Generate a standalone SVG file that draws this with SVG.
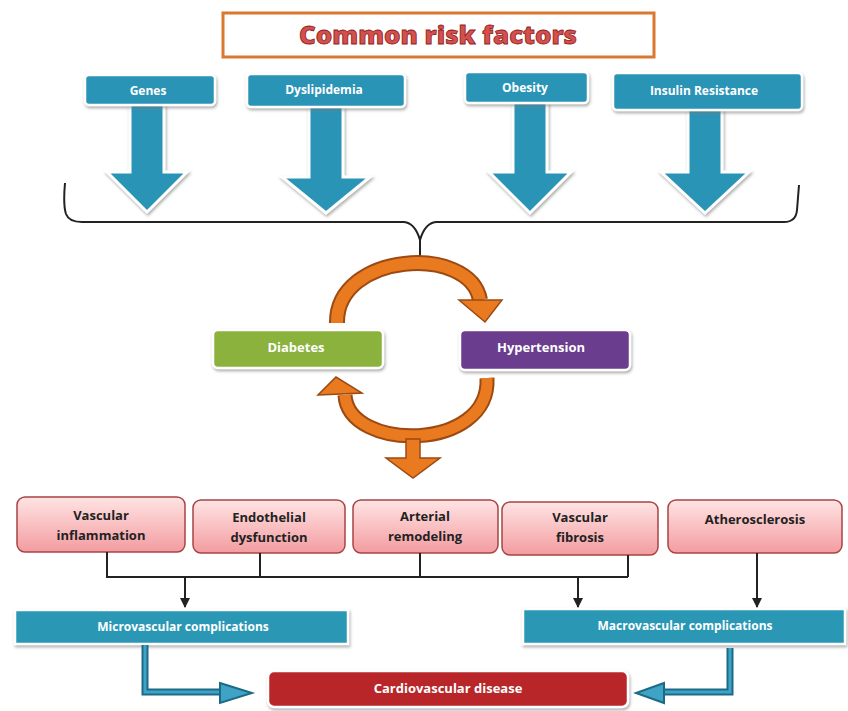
<svg xmlns="http://www.w3.org/2000/svg" width="848" height="711" viewBox="0 0 848 711">
<defs>
  <filter id="sh" x="-10%" y="-20%" width="130%" height="160%">
    <feDropShadow dx="1" dy="2" stdDeviation="1.5" flood-color="#777" flood-opacity="0.6"/>
  </filter>
  <linearGradient id="pink" x1="0" y1="0" x2="0" y2="1">
    <stop offset="0" stop-color="#FFE4E4"/>
    <stop offset="1" stop-color="#F39CA0"/>
  </linearGradient>
  <marker id="ah" viewBox="0 0 10 10" refX="9" refY="5" markerWidth="5" markerHeight="5" orient="auto">
    <path d="M0,0 L10,5 L0,10 z" fill="#222"/>
  </marker>
</defs>
<style>
  .lbl{font-family:"Open Sans","Liberation Sans",sans-serif;font-weight:bold;fill:#fff;text-anchor:middle}
  .blue{fill:#2A94B6;stroke:#fff;stroke-width:2.5;filter:url(#sh)}
  .barrow{fill:#2A94B6;stroke:#fff;stroke-width:3;filter:url(#sh)}
  .pk{fill:url(#pink);stroke:#A84444;stroke-width:1.5}
  .pkt{font-family:"Open Sans","Liberation Sans",sans-serif;font-weight:bold;font-size:13px;fill:#222;text-anchor:middle}
  .ln{stroke:#222;stroke-width:2;fill:none}
  .orO{stroke:#9C4A12;fill:none}
  .orI{stroke:#EA7A20;fill:none}
  .orH{fill:#EA7A20;stroke:#9C4A12;stroke-width:1.5}
  .tO{stroke:#1D6A88;stroke-width:7;fill:none}
  .tI{stroke:#3FA3C6;stroke-width:3;fill:none}
</style>

<g id="title">
  <rect x="223" y="13" width="431" height="44" fill="#fff" stroke="#D9782E" stroke-width="3"/>
  <text x="438" y="44" font-family="'Open Sans','Liberation Sans',sans-serif" font-weight="800" font-size="24" fill="#D4504C" stroke="#8E1E1E" stroke-width="0.8" text-anchor="middle" textLength="278" lengthAdjust="spacingAndGlyphs">Common risk factors</text>
</g>

<g id="genes">
  <polygon class="barrow" points="130,104 164,104 164,172 187,172 147,212 107,172 130,172"/>
  <rect class="blue" x="85" y="75" width="130" height="30" rx="4"/>
  <text class="lbl" x="148" y="95" font-size="12">Genes</text>
</g>
<g id="dyslipidemia">
  <polygon class="barrow" points="309,106 343,106 343,177 370,177 326,213 282,177 309,177"/>
  <rect class="blue" x="247" y="74" width="158" height="33" rx="4"/>
  <text class="lbl" x="324" y="94" font-size="12">Dyslipidemia</text>
</g>
<g id="obesity">
  <polygon class="barrow" points="513,102 547,102 547,172 571,172 530,213 489,172 513,172"/>
  <rect class="blue" x="465" y="72" width="123" height="31" rx="4"/>
  <text class="lbl" x="525" y="92" font-size="12">Obesity</text>
</g>
<g id="insulin">
  <polygon class="barrow" points="688,108 722,108 722,172 749,172 705,213 661,172 688,172"/>
  <rect class="blue" x="613" y="73" width="189" height="37" rx="4"/>
  <text class="lbl" x="704" y="95" font-size="12">Insulin  Resistance</text>
</g>

<g id="diabetes">
  <rect x="213" y="330" width="170" height="38" rx="5" fill="#8AB23C" stroke="#fff" stroke-width="2.5" filter="url(#sh)"/>
  <text class="lbl" x="296" y="352" font-size="13" fill="#F2F7E6">Diabetes</text>
</g>
<g id="hypertension">
  <rect x="460" y="330" width="170" height="40" rx="5" fill="#6B3D8E" stroke="#fff" stroke-width="2.5" filter="url(#sh)"/>
  <text class="lbl" x="541" y="352" font-size="13">Hypertension</text>
</g>

<g id="vascular-inflammation">
  <rect class="pk" x="17" y="497" width="168" height="55" rx="8"/>
  <text class="pkt" x="101" y="520">Vascular</text>
  <text class="pkt" x="101" y="540">inflammation</text>
</g>
<g id="endothelial">
  <rect class="pk" x="193" y="500" width="152" height="53" rx="8"/>
  <text class="pkt" x="269" y="522">Endothelial</text>
  <text class="pkt" x="269" y="542">dysfunction</text>
</g>
<g id="arterial">
  <rect class="pk" x="353" y="500" width="145" height="53" rx="8"/>
  <text class="pkt" x="425" y="521">Arterial</text>
  <text class="pkt" x="425" y="541">remodeling</text>
</g>
<g id="vascular-fibrosis">
  <rect class="pk" x="502" y="502" width="156" height="53" rx="8"/>
  <text class="pkt" x="580" y="522">Vascular</text>
  <text class="pkt" x="580" y="542">fibrosis</text>
</g>
<g id="atherosclerosis">
  <rect class="pk" x="668" y="500" width="174" height="53" rx="8"/>
  <text class="pkt" x="755" y="524">Atherosclerosis</text>
</g>

<g id="microvascular">
  <rect x="15" y="610" width="333" height="34" fill="#2A98B5" stroke="#fff" stroke-width="2.5" filter="url(#sh)"/>
  <text class="lbl" x="183" y="631" font-size="12">Microvascular  complications</text>
</g>
<g id="macrovascular">
  <rect x="523" y="609" width="322" height="35" fill="#2A98B5" stroke="#fff" stroke-width="2.5" filter="url(#sh)"/>
  <text class="lbl" x="685" y="630" font-size="12">Macrovascular  complications</text>
</g>
<g id="cvd">
  <rect x="268" y="671" width="360" height="36" rx="6" fill="#B8272B" stroke="#fff" stroke-width="2.5" filter="url(#sh)"/>
  <text class="lbl" x="448" y="693" font-size="13" font-weight="normal">Cardiovascular  disease</text>
</g>

<g id="connectors">
  <path class="ln" stroke-width="1.8" d="M65,183 Q63,205 66,214 Q69,222 82,222 L404,222 Q415,223 420,240 Q425,223 436,222 L784,222 Q796,222 797,210 L799,185"/>
  <path class="ln" stroke-width="1.8" d="M420,240 L420,262"/>
  <path class="orO" stroke-width="16" d="M337,323 C336,252 470,244 480,300"/>
  <path class="orI" stroke-width="12" d="M337,323 C336,252 470,244 480,300"/>
  <polygon class="orH" points="459,300 502,300 485,322"/>
  <path class="orO" stroke-width="15" d="M487,378 C491,452 348,452 345,395"/>
  <path class="orI" stroke-width="11" d="M487,378 C491,452 348,452 345,395"/>
  <polygon class="orH" points="318,395 362,393 336,377"/>
  <polygon class="orH" points="406,439 420,439 420,458 440,458 413,478 386,458 406,458"/>
  <path class="ln" stroke-width="3" d="M107,552 L107,577"/>
  <path class="ln" d="M260,553 L260,577 M420,553 L420,577 M628,555 L628,577 M106,577 L628,577"/>
  <path class="ln" d="M185,577 L185,607" marker-end="url(#ah)"/>
  <path class="ln" d="M578,577 L578,607" marker-end="url(#ah)"/>
  <path class="ln" d="M757,553 L757,607" marker-end="url(#ah)"/>
  <path class="tO" d="M145,645 L145,692 L222,692"/>
  <path class="tI" d="M145,645 L145,692 L222,692"/>
  <polygon points="220,683 252,693 220,703" fill="#3FA3C6" stroke="#1D6A88" stroke-width="2"/>
  <path class="tO" d="M730,648 L730,692 L662,692"/>
  <path class="tI" d="M730,648 L730,692 L662,692"/>
  <polygon points="664,683 636,693 664,703" fill="#3FA3C6" stroke="#1D6A88" stroke-width="2"/>
</g>
</svg>
